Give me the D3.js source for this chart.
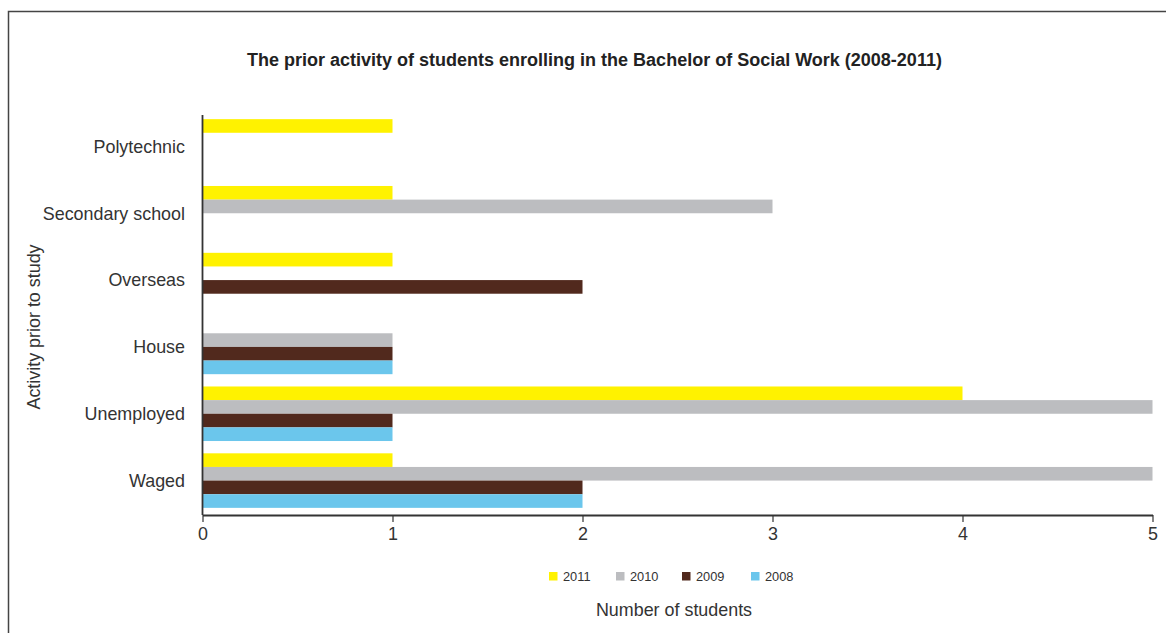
<!DOCTYPE html>
<html>
<head>
<meta charset="utf-8">
<title>Prior activity - Bachelor of Social Work</title>
<script src="https://d3js.org/d3.v7.min.js"></script>
<style type="text/css">
    body {
        margin: 0;
        background: #fff;
        font-family: "Liberation Sans", Arial, sans-serif;
    }
</style>
</head>
<body>
<div id="chart"></div>
<script type="text/javascript">
    // data
    var categories = ['Polytechnic', 'Secondary school', 'Overseas', 'House', 'Unemployed', 'Waged'];
    var years = ['2011', '2010', '2009', '2008'];
    var values2011 = [1, 1, 1, 0, 4, 1];
    var values2010 = [0, 3, 0, 1, 5, 5];
    var values2009 = [0, 0, 2, 1, 1, 2];
    var values2008 = [0, 0, 0, 1, 1, 2];
    var xTicks = [0, 1, 2, 3, 4, 5];

    var seriesValues = [values2011, values2010, values2009, values2008];
    var colors = ['#fff200', '#bcbdc0', '#51291d', '#6bc6ec'];

    var width = 1166;
    var height = 633;

    var svg = d3.select('#chart').append('svg')
        .attr('width', width)
        .attr('height', height);

    // outer frame (right and bottom sides fall outside the picture)
    svg.append('rect')
        .attr('x', 8.5).attr('y', 11.5)
        .attr('width', 1200).attr('height', 700)
        .attr('fill', 'none')
        .attr('stroke', '#444')
        .attr('stroke-width', 1.5);

    // scales
    var x = d3.scaleLinear()
        .domain([0, 5])
        .range([202.5, 1152.5]);

    var y = d3.scaleBand()
        .domain(categories)
        .range([113, 514])
        .paddingInner(0.184)
        .paddingOuter(0.092);

    var ySub = d3.scaleBand()
        .domain(years)
        .range([0, y.bandwidth()]);

    // bars
    var rows = [];
    categories.forEach(function(c, i) {
        years.forEach(function(yr, j) {
            rows.push({cat: c, year: yr, value: seriesValues[j][i], color: colors[j]});
        });
    });

    svg.append('g').selectAll('rect')
        .data(rows.filter(function(d) { return d.value > 0; }))
        .enter().append('rect')
            .attr('x', x(0))
            .attr('y', function(d) { return y(d.cat) + ySub(d.year); })
            .attr('width', function(d) { return x(d.value) - x(0); })
            .attr('height', ySub.bandwidth())
            .attr('fill', function(d) { return d.color; });

    // x axis
    var axisY = 515;
    var xAxis = svg.append('g')
        .attr('transform', 'translate(0,' + axisY + ')')
        .call(d3.axisBottom(x).tickValues(xTicks).tickFormat(d3.format('d'))
            .tickSize(7).tickSizeOuter(0).tickPadding(5));
    xAxis.select('.domain').attr('stroke', '#333').attr('stroke-width', 1.8);
    xAxis.selectAll('.tick line').attr('stroke', '#333').attr('stroke-width', 1.2);
    xAxis.selectAll('.tick text')
        .attr('fill', '#333')
        .style('font-family', '"Liberation Sans", Arial, sans-serif')
        .style('font-size', '17.9px');

    // y axis line (no ticks)
    svg.append('line')
        .attr('x1', x(0)).attr('x2', x(0))
        .attr('y1', 115).attr('y2', axisY)
        .attr('stroke', '#333')
        .attr('stroke-width', 1.8);

    // category labels
    svg.append('g').selectAll('text')
        .data(categories)
        .enter().append('text')
            .attr('x', 185)
            .attr('y', function(d) { return y(d) + y.bandwidth() / 2; })
            .attr('dy', '0.35em')
            .attr('text-anchor', 'end')
            .attr('fill', '#333')
            .style('font-size', '17.9px')
            .text(function(d) { return d; });

    // title
    svg.append('text')
        .attr('x', 594.5)
        .attr('y', 66)
        .attr('text-anchor', 'middle')
        .attr('fill', '#222')
        .style('font-size', '18px')
        .style('font-weight', 'bold')
        .text('The prior activity of students enrolling in the Bachelor of Social Work (2008-2011)');

    // axis titles
    svg.append('text')
        .attr('transform', 'translate(40,327) rotate(-90)')
        .attr('text-anchor', 'middle')
        .attr('fill', '#333')
        .style('font-size', '17.9px')
        .text('Activity prior to study');

    svg.append('text')
        .attr('x', 674)
        .attr('y', 616)
        .attr('text-anchor', 'middle')
        .attr('fill', '#333')
        .style('font-size', '17.9px')
        .text('Number of students');

    // legend
    var legendX = [549, 616, 682, 751];
    var legend = svg.append('g').selectAll('g')
        .data(years)
        .enter().append('g')
            .attr('transform', function(d, i) { return 'translate(' + legendX[i] + ',572)'; });
    legend.append('rect')
        .attr('width', 8.5).attr('height', 8.5)
        .attr('fill', function(d, i) { return colors[i]; });
    legend.append('text')
        .attr('x', 14)
        .attr('y', 4.5)
        .attr('dy', '0.35em')
        .attr('fill', '#333')
        .style('font-size', '12.8px')
        .text(function(d) { return d; });
</script>
</body>
</html>
